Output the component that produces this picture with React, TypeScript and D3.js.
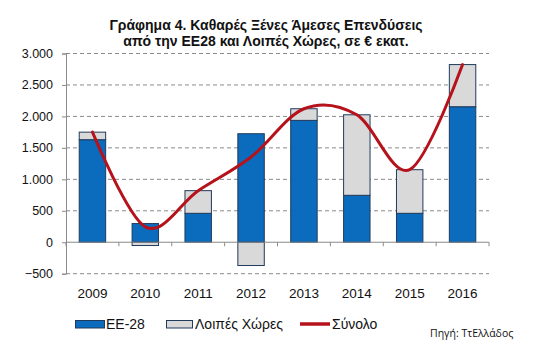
import React, { useEffect, useRef } from "react";
import * as d3 from "d3";

// data (€ million)
const years = ["2009", "2010", "2011", "2012", "2013", "2014", "2015", "2016"];
const eu28 = [1630, 297, 460, 1725, 1937, 746, 460, 2154];
const otherCountries = [120, -52, 360, -370, 185, 1280, 693, 670];
const yTicks = [-500, 0, 500, 1000, 1500, 2000, 2500, 3000];

const App = () => {
  const svgRef = useRef<SVGSVGElement>(null);

  useEffect(() => {
    const width = 540;
    const height = 359;
    const marginLeft = 66;
    const plotRight = 489;
    const yTop = 53.5;
    const yBottom = 273.7;
    const font = "'Liberation Sans', Arial, sans-serif";

    const blue = "#0b6cbd";
    const grey = "#d9d9d9";
    const red = "#b5121b";
    const edge = "#203a5c";

    const totals = years.map((_, i) => eu28[i] + otherCountries[i]);

    const svg = d3.select(svgRef.current).attr("width", width).attr("height", height);
    svg.selectAll("*").remove();

    svg.append("rect").attr("width", width).attr("height", height).attr("fill", "#fff");

    const x = d3
      .scaleBand()
      .domain(years)
      .range([marginLeft, plotRight])
      .paddingInner(0.5)
      .paddingOuter(0.25);

    const y = d3.scaleLinear().domain([-500, 3000]).range([yBottom, yTop]);

    const fmt = d3
      .formatLocale({ decimal: ",", thousands: ".", grouping: [3], currency: ["€", ""] })
      .format(",");

    // grid lines (dashed), zero line solid
    svg
      .append("g")
      .selectAll("line")
      .data(yTicks.filter((t) => t !== 0))
      .join("line")
      .attr("x1", marginLeft)
      .attr("x2", plotRight)
      .attr("y1", (d) => y(d))
      .attr("y2", (d) => y(d))
      .attr("stroke", "#8a8a8a")
      .attr("stroke-width", 1)
      .attr("stroke-dasharray", "4,3");

    // y axis
    const yAxis = svg
      .append("g")
      .attr("transform", `translate(${marginLeft},0)`)
      .call(d3.axisLeft(y).tickValues(yTicks).tickSize(4).tickPadding(9).tickFormat((d) => fmt(d as number)));
    yAxis.select(".domain").attr("stroke", "#8a8a8a");
    yAxis.selectAll(".tick line").attr("stroke", "#8a8a8a");
    yAxis
      .selectAll("text")
      .attr("font-family", font)
      .attr("font-size", 12.5)
      .attr("fill", "#111");

    // bars: EE-28
    svg
      .append("g")
      .selectAll("rect")
      .data(years)
      .join("rect")
      .attr("x", (d) => x(d)!)
      .attr("width", x.bandwidth())
      .attr("y", (_, i) => y(Math.max(0, eu28[i])))
      .attr("height", (_, i) => Math.abs(y(eu28[i]) - y(0)))
      .attr("fill", blue)
      .attr("stroke", edge)
      .attr("stroke-width", 1);

    // bars: other countries (stacked on positive side, below zero when negative)
    svg
      .append("g")
      .selectAll("rect")
      .data(years)
      .join("rect")
      .attr("x", (d) => x(d)!)
      .attr("width", x.bandwidth())
      .attr("y", (_, i) =>
        otherCountries[i] >= 0 ? y(eu28[i] + otherCountries[i]) : y(0)
      )
      .attr("height", (_, i) => Math.abs(y(otherCountries[i]) - y(0)))
      .attr("fill", grey)
      .attr("stroke", edge)
      .attr("stroke-width", 1);

    // zero line with category ticks
    svg
      .append("line")
      .attr("x1", marginLeft)
      .attr("x2", plotRight)
      .attr("y1", y(0))
      .attr("y2", y(0))
      .attr("stroke", "#8a8a8a");
    const step = x.step();
    svg
      .append("g")
      .selectAll("line")
      .data(d3.range(years.length + 1))
      .join("line")
      .attr("x1", (i) => marginLeft + i * step)
      .attr("x2", (i) => marginLeft + i * step)
      .attr("y1", y(0))
      .attr("y2", y(0) + 4)
      .attr("stroke", "#8a8a8a");

    // total line (smoothed)
    const line = d3
      .line<number>()
      .x((_, i) => x(years[i])! + x.bandwidth() / 2)
      .y((d) => y(d))
      .curve(d3.curveCardinal.tension(0));
    svg
      .append("path")
      .datum(totals)
      .attr("fill", "none")
      .attr("stroke", red)
      .attr("stroke-width", 3)
      .attr("stroke-linecap", "round")
      .attr("d", line);

    // year labels
    svg
      .append("g")
      .selectAll("text")
      .data(years)
      .join("text")
      .attr("x", (d) => x(d)! + x.bandwidth() / 2)
      .attr("y", 298)
      .attr("text-anchor", "middle")
      .attr("font-family", font)
      .attr("font-size", 13.5)
      .attr("fill", "#111")
      .text((d) => d);

    // title
    const title = svg
      .append("text")
      .attr("text-anchor", "middle")
      .attr("font-family", font)
      .attr("font-weight", "bold")
      .attr("font-size", 14)
      .attr("fill", "#111");
    title.append("tspan").attr("x", 266).attr("y", 30).text("Γράφημα 4. Καθαρές Ξένες Άμεσες Επενδύσεις");
    title.append("tspan").attr("x", 266).attr("y", 46).text("από την ΕΕ28 και Λοιπές Χώρες, σε € εκατ.");

    // legend
    const legend = svg.append("g").attr("font-family", font).attr("font-size", 14).attr("fill", "#111");
    legend
      .append("rect")
      .attr("x", 75.5)
      .attr("y", 320.5)
      .attr("width", 29)
      .attr("height", 7.5)
      .attr("fill", blue)
      .attr("stroke", edge);
    legend.append("text").attr("x", 106).attr("y", 329).text("ΕΕ-28");
    legend
      .append("rect")
      .attr("x", 166.5)
      .attr("y", 320.5)
      .attr("width", 26)
      .attr("height", 7.5)
      .attr("fill", grey)
      .attr("stroke", edge);
    legend.append("text").attr("x", 195).attr("y", 329).text("Λοιπές Χώρες");
    legend
      .append("line")
      .attr("x1", 300)
      .attr("x2", 330)
      .attr("y1", 324)
      .attr("y2", 324)
      .attr("stroke", red)
      .attr("stroke-width", 3.5);
    legend.append("text").attr("x", 332).attr("y", 329).text("Σύνολο");

    // source
    svg
      .append("text")
      .attr("x", 430)
      .attr("y", 337)
      .attr("font-family", "'Open Sans', 'DejaVu Sans', sans-serif")
      .attr("font-size", 10.5)
      .attr("fill", "#111")
      .text("Πηγή: ΤτΕλλάδος");
  }, []);

  return (
    <div style={{ position: "absolute", left: 0, top: 0 }}>
      <svg ref={svgRef} style={{ display: "block" }}></svg>
    </div>
  );
};

export default App;
